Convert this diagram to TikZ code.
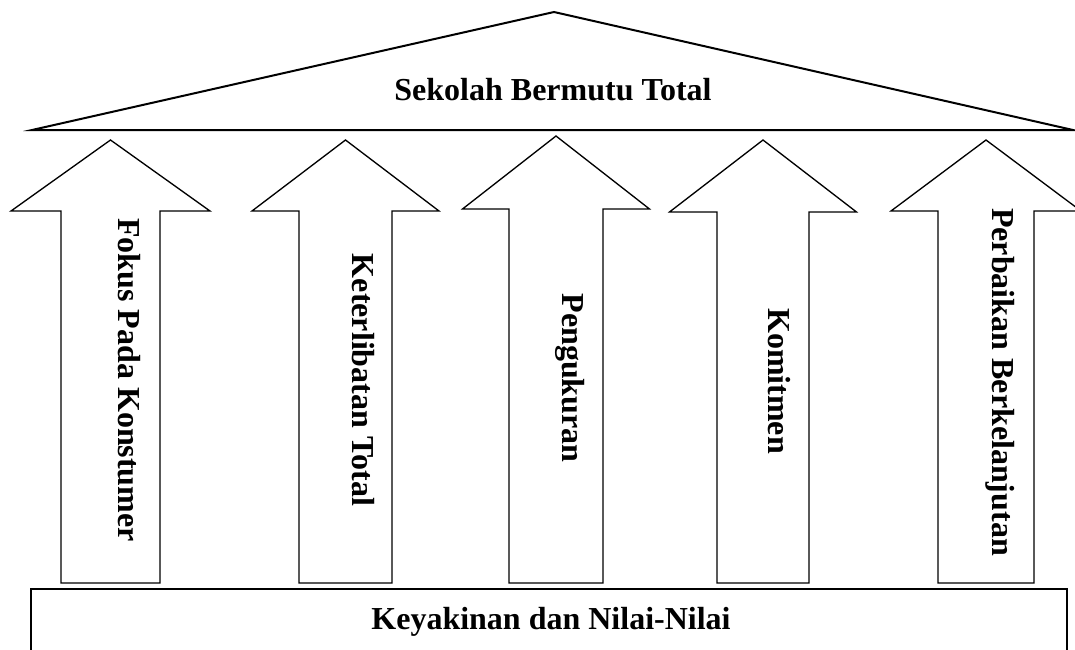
\documentclass[tikz,border=0pt]{standalone}
\usepackage{fontspec}
\setmainfont{Liberation Serif}
\usetikzlibrary{positioning}
\tikzset{
	roof/.style={draw, line width=1.5pt, line join=miter},
	pillar/.style={draw, line width=1pt, fill=white},
	floorbox/.style={draw, line width=1.5pt},
	headtext/.style={font=\fontsize{24}{28}\selectfont\bfseries, inner sep=0pt, anchor=base},
	pillartext/.style={font=\fontsize{24}{28}\selectfont\bfseries, inner sep=0pt, rotate=-90, anchor=base}
}

\begin{document}
\begin{tikzpicture}[x=0.75pt, y=-0.75pt]
	\useasboundingbox (0,0) rectangle (1075,650);
	\clip (0,0) rectangle (1075,650);

	% --- Roof ---
	\draw[roof] (32,130) -- (554,12) -- (1073,130) -- cycle;
	\node[headtext] (title) at (553,100) {Sekolah Bermutu Total};

	% --- Pillars ---
	\foreach \cx/\sw/\hw/\ty/\hy in {110.5/49.5/99.5/140/211, 345.5/46.5/93.5/140/211, 556/47/93.5/136/209, 763/46/93.5/140/212, 986/48/95/140/211}
		\draw[pillar] (\cx-\sw,583) -- (\cx-\sw,\hy) -- (\cx-\hw,\hy) -- (\cx,\ty) -- (\cx+\hw,\hy) -- (\cx+\sw,\hy) -- (\cx+\sw,583) -- cycle;

	\node[pillartext] (fokus) at (118,380) {Fokus Pada Konstumer};
	\node[pillartext] (keterlibatan) at (352,380) {Keterlibatan Total};
	\node[pillartext] (pengukuran) at (562,378) {Pengukuran};
	\node[pillartext] (komitmen) at (768,381) {Komitmen};
	\node[pillartext] (perbaikan) at (992,382) {Perbaikan Berkelanjutan};

	% --- Floor ---
	\draw[floorbox] (31,589) rectangle (1067,670);
	\node[headtext] (keyakinan) at (551,629) {Keyakinan dan Nilai-Nilai};

\end{tikzpicture}
\end{document}
